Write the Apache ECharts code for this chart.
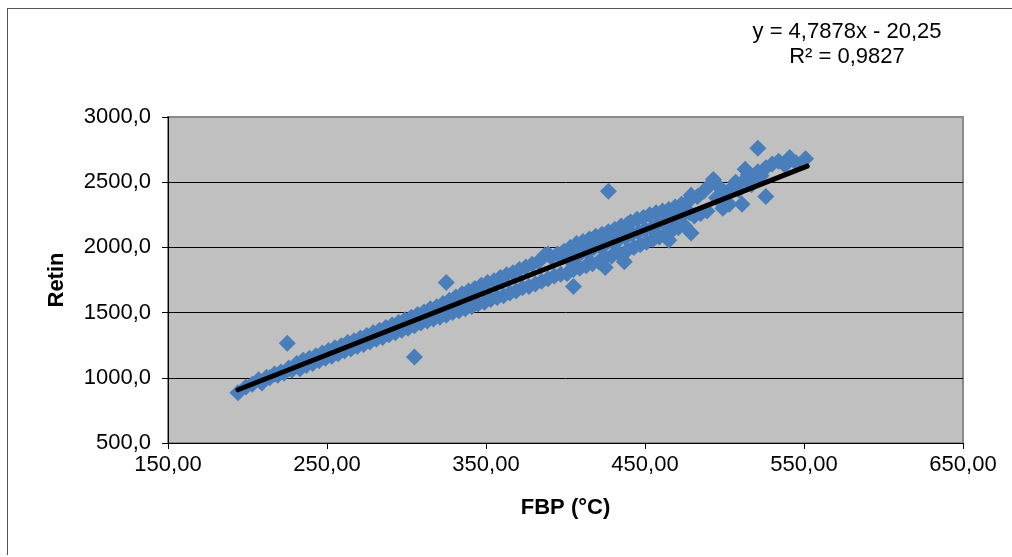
<!DOCTYPE html>
<html>
<head>
<meta charset="utf-8">
<script src="https://cdn.jsdelivr.net/npm/echarts@6/dist/echarts.min.js"></script>
<style>
  html, body { margin: 0; padding: 0; background: #fff; }
  #frame { position: absolute; left: 7px; top: 8px; width: 1005px; height: 546px;
           border-top: 1px solid #555; border-left: 1px solid #555; }
  #chart { position: absolute; left: 0; top: 0; width: 1012px; height: 557px; }
</style>
</head>
<body>
<div id="frame"></div>
<div id="chart"></div>
<script>
// FBP (°C) values
const fbp = [
  194, 199, 203, 207, 209, 212, 214, 217, 219, 221, 223, 225, 226, 228, 230,
  231, 233, 235, 237, 239, 241, 243, 245, 247, 249, 251, 253, 255, 257, 259,
  261, 263, 265, 267, 269, 271, 273, 275, 277, 279, 281, 283, 285, 287, 289,
  291, 293, 295, 297, 299, 301, 303, 305, 305, 307, 309, 311, 313, 315, 317, 319,
  321, 323, 325, 325, 327, 329, 331, 333, 335, 337, 339, 341, 343, 345, 347, 349,
  351, 353, 355, 357, 359, 361, 363, 365, 367, 369, 371, 373, 375, 377, 379,
  381, 383, 385, 387, 389, 389, 391, 393, 395, 397, 399,
  401, 403, 405, 405, 407, 409, 411, 413, 415, 417, 419, 421, 423, 425, 425,
  427, 427, 429, 431, 433, 435, 437, 439, 439, 441, 443, 445, 447, 449, 451,
  453, 455, 457, 459, 461, 463, 465, 465, 467, 469, 471, 473, 475, 477, 479, 479,
  402, 406, 410, 414, 418, 422, 426, 430, 434, 438, 442, 446, 450, 454, 458,
  462, 466, 470, 474, 478,
  481, 483, 485, 487, 489, 491, 493, 495, 497, 499, 501, 503, 505, 507, 509,
  511, 513, 513, 515, 517, 519, 521, 521, 523, 526, 526, 530, 534, 538, 541,
  545, 551
];
// Retin values, same order
const retin = [
  885, 930, 950, 985, 960, 1005, 1000, 1030, 1020, 1045, 1035, 1265, 1075, 1060, 1095,
  1110, 1070, 1135, 1095, 1150, 1110, 1170, 1130, 1190, 1150, 1210, 1165, 1230, 1185, 1245,
  1205, 1270, 1220, 1285, 1240, 1305, 1255, 1325, 1275, 1345, 1295, 1365, 1310, 1385, 1330,
  1405, 1345, 1425, 1365, 1445, 1380, 1465, 1160, 1400, 1485, 1420, 1505, 1435, 1530, 1450, 1545,
  1465, 1570, 1730, 1480, 1595, 1500, 1620, 1515, 1645, 1530, 1665, 1545, 1685, 1565, 1710, 1580,
  1730, 1600, 1745, 1615, 1770, 1630, 1790, 1650, 1805, 1665, 1830, 1690, 1850, 1700, 1870,
  1720, 1890, 1740, 1940, 1950, 1760, 1925, 1780, 1950, 1795, 1970,
  1800, 2000, 1700, 1830, 2030, 1840, 2045, 1860, 2065, 1875, 2085, 1890, 2100, 1845, 1920,
  2430, 2120, 1935, 2140, 1960, 2165, 1890, 2180, 1980, 2195, 2000, 2215, 2020, 2230, 2040,
  2250, 2060, 2265, 2080, 2280, 2100, 2055, 2290, 2130, 2310, 2150, 2330, 2165, 2350, 2110, 2400,
  1910, 1925, 1960, 1965, 2000, 2005, 2035, 2040, 2065, 2075, 2105, 2115, 2140, 2145, 2180,
  2185, 2215, 2220, 2255, 2265,
  2240, 2390, 2260, 2430, 2280, 2480, 2520, 2380, 2460, 2300, 2420, 2330, 2460, 2500, 2440,
  2330, 2600, 2520, 2560, 2480, 2530, 2760, 2580, 2550, 2390, 2610, 2640, 2660, 2630, 2690,
  2650, 2680
];
// linear trend line ends: y = 4,7878x - 20,25
const trendX = [194, 552];
const trendY = [908, 2623];
const xTicks = { min: 150, max: 650, step: 100 };
const yTicks = { min: 500, max: 3000, step: 500 };
const equation = ['y = 4,7878x - 20,25', 'R² = 0,9827'];

const FONT = "'Liberation Sans', Arial, sans-serif";
const points = fbp.map((x, i) => [x, retin[i]]);
const trend = trendX.map((x, i) => [x, trendY[i]]);

const myChart = echarts.init(document.getElementById('chart'));
const option = {
  animation: false,
  grid: {
    left: 168, right: 49, top: 117, bottom: 114,
    show: true,
    backgroundColor: '#C0C0C0',
    borderColor: '#8a8a8a',
    borderWidth: 2
  },
  xAxis: {
    type: 'value',
    min: xTicks.min, max: xTicks.max, interval: xTicks.step,
    name: 'FBP (°C)',
    nameLocation: 'middle',
    nameGap: 54,
    nameTextStyle: { fontFamily: FONT, fontSize: 22, fontWeight: 'bold', color: '#000' },
    axisLine: { show: true, lineStyle: { color: '#000', width: 1 } },
    axisTick: { show: true, length: 6, lineStyle: { color: '#000' } },
    axisLabel: {
      fontFamily: FONT, fontSize: 22, color: '#000', margin: 11,
      formatter: v => v.toFixed(2).replace('.', ',')
    },
    splitLine: { show: false }
  },
  yAxis: {
    type: 'value',
    min: yTicks.min, max: yTicks.max, interval: yTicks.step,
    name: 'Retin',
    nameLocation: 'middle',
    nameGap: 100,
    nameRotate: 90,
    nameTextStyle: { fontFamily: FONT, fontSize: 22, fontWeight: 'bold', color: '#000' },
    axisLine: { show: true, lineStyle: { color: '#000', width: 1 } },
    axisTick: { show: true, length: 6, lineStyle: { color: '#000' } },
    axisLabel: {
      fontFamily: FONT, fontSize: 22, color: '#000', margin: 17,
      formatter: v => v.toFixed(1).replace('.', ',')
    },
    splitLine: { show: true, showMinLine: false, showMaxLine: false, lineStyle: { color: '#000', width: 1 } }
  },
  graphic: [
    {
      type: 'text', x: 847, y: 32,
      style: { text: equation[0], fontFamily: FONT, fontSize: 22, fill: '#000', align: 'center', verticalAlign: 'middle' }
    },
    {
      type: 'text', x: 847, y: 57,
      style: { text: equation[1], fontFamily: FONT, fontSize: 22, fill: '#000', align: 'center', verticalAlign: 'middle' }
    }
  ],
  series: [
    {
      type: 'scatter',
      data: points,
      symbol: 'diamond',
      symbolSize: 17,
      itemStyle: { color: '#4A7EBB', opacity: 1 }
    },
    {
      type: 'line',
      data: trend,
      showSymbol: false,
      symbol: 'none',
      lineStyle: { color: '#000', width: 5, cap: 'round' },
      z: 5
    }
  ]
};
myChart.setOption(option);
</script>
</body>
</html>
